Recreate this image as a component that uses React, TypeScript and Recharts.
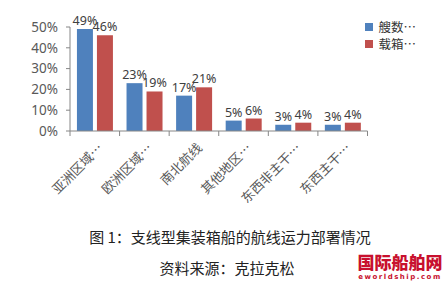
import React from 'react';
import { BarChart, Bar, XAxis, YAxis, LabelList, Legend } from 'recharts';

const categories = ['亚洲区域…', '欧洲区域…', '南北航线', '其他地区…', '东西非主干…', '东西主干…'];
const shipShare = [49, 23, 17, 5, 3, 3];
const teuShare = [46, 19, 21, 6, 4, 4];
const yTicks = [0, 10, 20, 30, 40, 50];
const seriesNames = ['艘数…', '载箱…'];
const colors = ['#4f81bd', '#c0504d'];

const data = categories.map((c, i) => ({ name: c, a: shipShare[i], b: teuShare[i] }));

const CJK = '"Noto Sans CJK SC", "Noto Sans", sans-serif';

const XTick = (props: any) => {
  const { x, y, payload, index } = props;
  const off = payload && payload.offset ? payload.offset : 29;
  const last = index === categories.length - 1;
  return (
    <g>
      <line x1={x - off} x2={x - off} y1={y - 8} y2={y - 3} stroke="#868686" />
      {last && <line x1={x + off} x2={x + off} y1={y - 8} y2={y - 3} stroke="#868686" />}
      <text
        x={x + 5}
        y={y + 6}
        textAnchor="end"
        transform={`rotate(-45 ${x + 5} ${y + 6})`}
        fontSize={13}
        fontFamily={CJK}
        fill="#595959"
        dominantBaseline="central"
      >
        {payload.value}
      </text>
    </g>
  );
};

const LegendContent = () => (
  <div style={{ fontFamily: CJK, fontSize: 12.5, color: '#333' }}>
    {seriesNames.map((n, i) => (
      <div key={n} style={{ display: 'flex', alignItems: 'center', height: 17, lineHeight: '17px' }}>
        <span style={{ display: 'inline-block', width: 8, height: 8, background: colors[i], marginRight: 5 }} />
        <span>{n}</span>
      </div>
    ))}
  </div>
);

export default function App() {
  return (
    <div style={{ position: 'absolute', left: 0, top: 0, width: 448, height: 283, background: '#fff', overflow: 'hidden' }}>
      <BarChart
        width={448}
        height={215}
        data={data}
        margin={{ top: 27, right: 30, bottom: 0, left: 0 }}
        barCategoryGap="14%"
        barGap={4}
      >
        <XAxis
          dataKey="name"
          axisLine={{ stroke: '#868686' }}
          tickLine={false}
          tick={<XTick />}
          interval={0}
          height={84}
        />
        <YAxis
          domain={[0, 50]}
          ticks={yTicks}
          interval={0}
          tickFormatter={(v: number) => `${v}%`}
          width={70}
          axisLine={{ stroke: '#868686' }}
          tickLine={{ stroke: '#868686' }}
          tickSize={4}
          tickMargin={8}
          tick={{ fontSize: 13.5, fill: '#595959', fontFamily: '"Noto Sans", sans-serif' }}
        />
        <Legend
          layout="vertical"
          verticalAlign="top"
          align="right"
          content={<LegendContent />}
          wrapperStyle={{ top: 18, right: 32, width: 'auto', left: 'auto' }}
        />
        <Bar dataKey="a" name={seriesNames[0]} fill={colors[0]} isAnimationActive={false}>
          <LabelList dataKey="a" position="top" offset={4} formatter={(v: any) => `${v}%`} style={{ fontSize: 12.5, fill: '#404040', fontFamily: '"Noto Sans", sans-serif' }} />
        </Bar>
        <Bar dataKey="b" name={seriesNames[1]} fill={colors[1]} isAnimationActive={false}>
          <LabelList dataKey="b" position="top" offset={4} formatter={(v: any) => `${v}%`} style={{ fontSize: 12.5, fill: '#404040', fontFamily: '"Noto Sans", sans-serif' }} />
        </Bar>
      </BarChart>
      <div style={{ position: 'absolute', left: 0, width: 460, top: 227, textAlign: 'center', fontFamily: CJK, fontSize: 15, color: '#222', lineHeight: '20px' }}>
        图 1：支线型集装箱船的航线运力部署情况
      </div>
      <div style={{ position: 'absolute', left: 0, width: 454, top: 258, textAlign: 'center', fontFamily: CJK, fontSize: 15, color: '#222', lineHeight: '20px' }}>
        资料来源：克拉克松
      </div>
      <div style={{ position: 'absolute', left: 354, top: 253, width: 92, textAlign: 'center', fontFamily: CJK, fontSize: 17, fontWeight: 900, color: '#c8102e', lineHeight: '18px' }}>
        国际船舶网
      </div>
      <div style={{ position: 'absolute', left: 354, top: 273, width: 92, textAlign: 'center', fontFamily: '"DejaVu Sans", sans-serif', fontSize: 7, fontWeight: 700, color: '#c8102e', lineHeight: '8px', letterSpacing: 1.5 }}>
        eworldship.com
      </div>
    </div>
  );
}
